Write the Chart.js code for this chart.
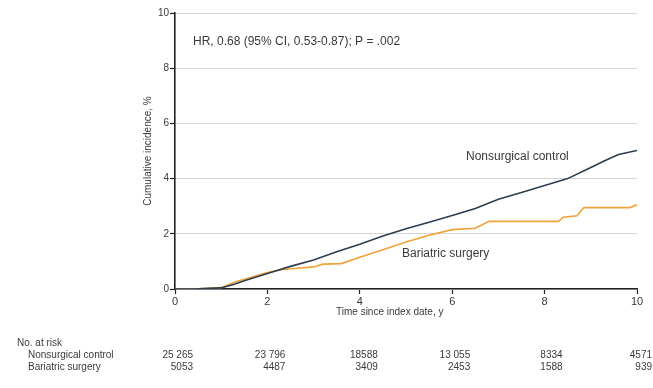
<!DOCTYPE html>
<html>
<head>
<meta charset="utf-8">
<script src="https://cdn.jsdelivr.net/npm/chart.js@4/dist/chart.umd.min.js"></script>
<style>
  html, body { margin: 0; padding: 0; background: #fff; }
  #wrap { width: 653px; height: 388px; }
</style>
</head>
<body>
<div id="wrap"><canvas id="kmChart" width="653" height="388"></canvas></div>
<script>
// cumulative incidence, %
const controlYears = [0, 0.5, 1.0, 1.3, 1.5, 2.0, 2.5, 3.0, 3.5, 4.0, 4.5, 5.0, 5.5, 6.0, 6.5, 7.0, 7.5, 8.0, 8.5, 9.0, 9.3, 9.6, 10];
const controlRisk  = [0, 0.01, 0.04, 0.18, 0.3, 0.56, 0.82, 1.05, 1.35, 1.62, 1.92, 2.18, 2.42, 2.66, 2.92, 3.25, 3.5, 3.75, 4.0, 4.4, 4.65, 4.87, 5.02];

const surgeryYears = [0, 0.5, 1.0, 1.3, 1.5, 2.0, 2.3, 2.6, 3.0, 3.2, 3.6, 4.0, 4.5, 5.0, 5.5, 6.0, 6.5, 6.8, 8.3, 8.4, 8.7, 8.85, 9.85, 10];
const surgeryRisk  = [0, 0.01, 0.05, 0.25, 0.35, 0.6, 0.7, 0.74, 0.8, 0.9, 0.92, 1.15, 1.42, 1.7, 1.95, 2.15, 2.2, 2.45, 2.45, 2.6, 2.65, 2.95, 2.95, 3.05];

const riskYears = [0, 2, 4, 6, 8, 10];
const atRiskControl = ['25 265', '23 796', '18588', '13 055', '8334', '4571'];
const atRiskSurgery = ['5053', '4487', '3409', '2453', '1588', '939'];

const FONT = '"Liberation Sans", Arial, sans-serif';
const TXT = '#3a3a3a';

function toPoints(xs, ys) {
    return xs.map((x, i) => ({ x: x, y: ys[i] }));
}

const textPlugin = {
    id: 'kmText',
    afterDraw(chart) {
        const ctx = chart.ctx;
        const xs = chart.scales.x;
        const area = chart.chartArea;
        ctx.save();
        ctx.fillStyle = TXT;
        ctx.textBaseline = 'middle';
        ctx.textAlign = 'left';

        // hazard ratio note
        ctx.font = '12px ' + FONT;
        ctx.fillText('HR, 0.68 (95% CI, 0.53-0.87); P = .002', area.left + 18, 42);

        // series labels
        ctx.fillText('Nonsurgical control', 466, 157);
        ctx.fillText('Bariatric surgery', 402, 254);

        // axis titles
        ctx.font = '10px ' + FONT;
        ctx.fillText('Time since index date, y', 336, 312);
        ctx.save();
        ctx.translate(148, (area.top + area.bottom) / 2);
        ctx.rotate(-Math.PI / 2);
        ctx.textAlign = 'center';
        ctx.fillText('Cumulative incidence, %', 0, 0);
        ctx.restore();

        // number at risk table
        ctx.textAlign = 'left';
        ctx.fillText('No. at risk', 17, 343);
        ctx.fillText('Nonsurgical control', 28, 355);
        ctx.fillText('Bariatric surgery', 28, 367);
        ctx.textAlign = 'right';
        riskYears.forEach((yr, i) => {
            const px = Math.min(xs.getPixelForValue(yr) + 18, 652);
            ctx.fillText(atRiskControl[i], px, 355);
            ctx.fillText(atRiskSurgery[i], px, 367);
        });
        ctx.restore();
    }
};

const chart = new Chart(document.getElementById('kmChart').getContext('2d'), {
    type: 'line',
    data: {
        datasets: [
            {
                label: 'Nonsurgical control',
                data: toPoints(controlYears, controlRisk),
                borderColor: '#2b3d4f',
                borderWidth: 1.6,
                pointRadius: 0,
                fill: false,
                tension: 0
            },
            {
                label: 'Bariatric surgery',
                data: toPoints(surgeryYears, surgeryRisk),
                borderColor: '#f0a338',
                borderWidth: 1.6,
                pointRadius: 0,
                fill: false,
                tension: 0
            }
        ]
    },
    options: {
        responsive: false,
        animation: false,
        layout: { padding: { top: 13, right: 16, left: 0, bottom: 0 } },
        plugins: {
            legend: { display: false },
            tooltip: { enabled: false }
        },
        scales: {
            x: {
                type: 'linear',
                min: 0,
                max: 10,
                ticks: { stepSize: 2, color: TXT, font: { family: FONT, size: 11 }, padding: 1 },
                grid: { drawOnChartArea: false, tickLength: 5, tickColor: '#222', tickWidth: 1.2 },
                border: { color: '#222', width: 1.6 },
                afterFit(scale) { scale.height = 99; }
            },
            y: {
                min: 0,
                max: 10,
                ticks: { stepSize: 2, color: TXT, font: { family: FONT, size: 10 }, padding: 1 },
                grid: { color: '#d6d6d6', lineWidth: 1, tickLength: 5, tickColor: '#222', tickWidth: 1.2 },
                border: { color: '#222', width: 1.6 },
                afterFit(scale) { scale.width = 175; }
            }
        }
    },
    plugins: [textPlugin]
});
</script>
</body>
</html>
